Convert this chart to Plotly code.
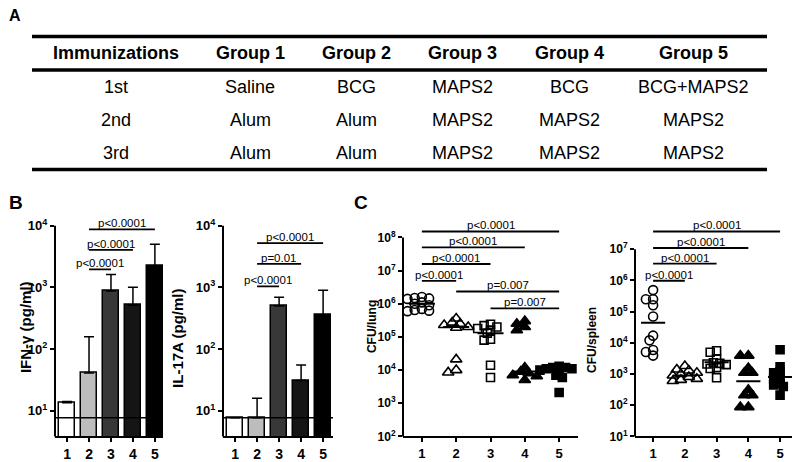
import numpy as np
import plotly.graph_objects as go

W, H = 800, 462
OX, OY = 8, 8  # page body margin of the exported html
FONT = "Liberation Sans, Arial, sans-serif"

# ---------------- data ----------------
table_header = ["Immunizations", "Group 1", "Group 2", "Group 3", "Group 4", "Group 5"]
row_1st = ["1st", "Saline", "BCG", "MAPS2", "BCG", "BCG+MAPS2"]
row_2nd = ["2nd", "Alum", "Alum", "MAPS2", "MAPS2", "MAPS2"]
row_3rd = ["3rd", "Alum", "Alum", "MAPS2", "MAPS2", "MAPS2"]

groups = [1, 2, 3, 4, 5]
group_labels = ["1", "2", "3", "4", "5"]

# panel B (pg/ml): mean and upper SD
ifn_mean = [13.5, 41, 870, 515, 2200]
ifn_sd = [0.6, 117, 740, 485, 2800]
il17_mean = [7.7, 7.7, 500, 31, 355]
il17_sd = [0, 8.3, 190, 24, 545]
detection_limit = 7.7

ifn_pairs = [(2, 3), (2, 4), (2, 5)]
ifn_pvals = ["p<0.0001", "p<0.0001", "p<0.0001"]
il17_pairs = [(2, 3), (2, 4), (2, 5)]
il17_pvals = ["p<0.0001", "p=0.01", "p<0.0001"]

# panel C: CFU per mouse
lung_g1 = [1.6e6, 1.5e6, 1.45e6, 1.4e6, 1.1e6, 1.0e6, 9e5, 7e5, 6.5e5, 6.2e5, 6e5]
lung_g2 = [3.6e5, 2.7e5, 2.5e5, 2.3e5, 2.0e5, 1.9e5, 2.1e4, 1.0e4, 8.5e3]
lung_g3 = [2.4e5, 2.2e5, 2.0e5, 1.8e5, 1.6e5, 1.3e5, 8.5e4, 8e4, 1.4e4, 6e3]
lung_g4 = [3.0e5, 2.5e5, 2.0e5, 1.6e5, 1.2e4, 9e3, 8e3, 7e3, 6.5e3, 5e3]
lung_g5 = [1.3e4, 1.2e4, 1.2e4, 1.1e4, 1.1e4, 1.0e4, 9e3, 7e3, 6e3, 2.1e3]
lung_median = [1.0e6, 2.0e5, 1.3e5, 9e3, 1.05e4]

spleen_g1 = [4.9e5, 2.5e5, 2.5e5, 1.6e5, 7e4, 1.7e4, 1.2e4, 5.9e3, 5.1e3, 3.9e3]
spleen_g2 = [1.8e3, 1.4e3, 1.3e3, 1.1e3, 1.0e3, 9e2, 8e2, 7e2, 6.5e2, 6e2]
spleen_g3 = [5.6e3, 5.0e3, 3.0e3, 2.3e3, 2.2e3, 2.1e3, 2.0e3, 1.6e3, 1.5e3, 7.6e2]
spleen_g4 = [3.9e3, 3.9e3, 1.55e3, 1.1e3, 1.1e3, 3.1e2, 2.1e2, 2.1e2, 8.7e1, 8.7e1]
spleen_g5 = [6.0e3, 1.7e3, 1.2e3, 1.1e3, 8e2, 7e2, 5e2, 4.5e2, 4e2, 2.1e2]
spleen_median = [4.4e4, 9e2, 2.4e3, 5.9e2, 8e2]

lung_pairs = [(1, 2), (1, 3), (1, 4), (1, 5), (2, 5), (3, 5)]
lung_pvals = ["p<0.0001", "p<0.0001", "p<0.0001", "p<0.0001", "p=0.007", "p=0.007"]
spleen_pairs = [(1, 2), (1, 3), (1, 4), (1, 5)]
spleen_pvals = ["p<0.0001", "p<0.0001", "p<0.0001", "p<0.0001"]

# bracket heights (data units)
ifn_bracket_y = [1950, 4050, 8700]
il17_bracket_y = [1040, 2400, 5200]
lung_bracket_y = [10 ** 6.69, 10 ** 7.20, 10 ** 7.70, 10 ** 8.18, 10 ** 6.37, 10 ** 5.86]
spleen_bracket_y = [10 ** 5.99, 10 ** 6.54, 10 ** 7.04, 10 ** 7.57]


def px(x):
    return (x - OX) / W


def py(y):
    return 1 - (y - OY) / H


fig = go.Figure()
annotations = []
shapes = []


def label(x, y, text, size, angle=0):
    annotations.append(dict(x=px(x), y=py(y), xref="paper", yref="paper", text=text,
                            showarrow=False, xanchor="center", yanchor="middle",
                            textangle=angle, font=dict(size=size, family=FONT, color="black")))


# ---------------- panel A: table ----------------
col_x = [116, 250, 356, 462, 569, 693]
row_y = [54, 88, 122, 155]
for j, txt in enumerate(table_header):
    label(col_x[j], row_y[0], f"<b>{txt}</b>", 18)
for i, row in enumerate([row_1st, row_2nd, row_3rd]):
    for j, txt in enumerate(row):
        label(col_x[j], row_y[i + 1], txt, 18)
for ly in [37, 71, 172]:
    shapes.append(dict(type="line", xref="paper", yref="paper", x0=px(32), x1=px(767),
                       y0=py(ly), y1=py(ly), line=dict(color="black", width=3.5)))

label(15, 16, "<b>A</b>", 16)
label(16, 205, "<b>B</b>", 19)
label(361, 205, "<b>C</b>", 19)

# ---------------- axes setup ----------------
panels = {
    # name: (x domain px, y top px, x range, log y range, y axis top decade, tick decades, font)
    "1": ((55, 163), 215, [0.45, 5.37], [0.584, 4.224], 4, range(1, 5), 13),
    "2": ((223, 333), 215, [0.45, 5.45], [0.584, 4.224], 4, range(1, 5), 13),
    "3": ((403, 578), 220, [0.45, 5.55], [2.0, 8.623], 8, range(2, 9), 12),
    "4": ((635, 795), 220, [0.43, 5.47], [1.0, 8.041], 7, range(1, 8), 12),
}
bottom_px = 443
for k, (xd, ytop, xr, yr, topdec, decs, fs) in panels.items():
    sfx = "" if k == "1" else k
    fig.update_layout({
        f"xaxis{sfx}": dict(domain=[px(xd[0]), px(xd[1])], range=xr, anchor=f"y{sfx}",
                            showline=True, linecolor="black", linewidth=2, showgrid=False,
                            zeroline=False, ticks="outside", ticklen=4, tickwidth=2,
                            tickcolor="black", tickvals=groups, ticktext=group_labels,
                            tickfont=dict(size=fs + 1, family=FONT, color="black", weight="bold")),
        f"yaxis{sfx}": dict(domain=[py(bottom_px), py(ytop)], type="log", range=yr,
                            anchor=f"x{sfx}", showline=False, showgrid=False, zeroline=False,
                            ticks="outside", ticklen=4, tickwidth=2, tickcolor="black",
                            tickvals=[10 ** d for d in decs],
                            ticktext=[f"10<sup>{d}</sup>" for d in decs],
                            tickfont=dict(size=fs, family=FONT, color="black", weight="bold")),
    })
    ydom_top = (topdec - yr[0]) / (yr[1] - yr[0])
    shapes.append(dict(type="line", xref=f"x{sfx} domain", yref=f"y{sfx} domain",
                       x0=0, x1=0, y0=0, y1=ydom_top, line=dict(color="black", width=2)))

# ---------------- panel B: bars ----------------
bar_colors = ["white", "#bdbdbd", "#383838", "#151515", "#000000"]
for sfx, means, sds in [("", ifn_mean, ifn_sd), ("2", il17_mean, il17_sd)]:
    xr = panels["1" if sfx == "" else sfx][2]
    fig.add_trace(go.Scatter(x=xr, y=[detection_limit, detection_limit], mode="lines",
                             line=dict(color="black", width=1.5), xaxis=f"x{sfx}", yaxis=f"y{sfx}",
                             showlegend=False, hoverinfo="skip"))
    fig.add_trace(go.Bar(x=groups, y=means, width=0.73, xaxis=f"x{sfx}", yaxis=f"y{sfx}",
                         marker=dict(color=bar_colors, line=dict(color="black", width=1.5)),
                         error_y=dict(type="data", array=sds, arrayminus=[0] * 5, symmetric=False,
                                      color="black", thickness=1.5, width=5),
                         showlegend=False))

# ---------------- panel C: scatter ----------------
symbols = ["circle-open", "triangle-up-open", "square-open", "triangle-up", "square"]
sizes = [9, 10, 8, 10, 8]


def swarm(values, center, px_unit, px_dec, diam):
    logs = np.log10(values) * px_dec
    order = np.argsort(-logs)
    placed = []
    xs = np.zeros(len(values))
    step = diam * 0.4
    for i in order:
        yv = logs[i]
        k = 0
        pos = None
        while pos is None:
            cands = [0.0] if k == 0 else [-k * step, k * step]
            for c in cands:
                if all((c - a) ** 2 + (yv - b) ** 2 >= (0.55 * diam) ** 2 for a, b in placed):
                    pos = c
                    break
            k += 1
        placed.append((pos, yv))
        xs[i] = center + pos / px_unit
    return xs


for sfx, data, med in [("3", [lung_g1, lung_g2, lung_g3, lung_g4, lung_g5], lung_median),
                       ("4", [spleen_g1, spleen_g2, spleen_g3, spleen_g4, spleen_g5], spleen_median)]:
    xd, ytop, xr, yr = panels[sfx][:4]
    px_unit = (xd[1] - xd[0]) / (xr[1] - xr[0])
    px_dec = (bottom_px - ytop) / (yr[1] - yr[0])
    for gi, vals in enumerate(data):
        xs = swarm(vals, groups[gi], px_unit, px_dec, sizes[gi])
        fig.add_trace(go.Scatter(x=xs, y=vals, mode="markers", xaxis=f"x{sfx}", yaxis=f"y{sfx}",
                                 marker=dict(symbol=symbols[gi], size=sizes[gi], color="black",
                                             line=dict(color="black", width=1.6)),
                                 showlegend=False))
    mx, my = [], []
    for g, m in zip(groups, med):
        mx += [g - 0.38, g + 0.38, None]
        my += [m, m, None]
    fig.add_trace(go.Scatter(x=mx, y=my, mode="lines", line=dict(color="black", width=2),
                             xaxis=f"x{sfx}", yaxis=f"y{sfx}", showlegend=False))

# ---------------- significance brackets ----------------
for sfx, pairs, pvals, heights in [("", ifn_pairs, ifn_pvals, ifn_bracket_y),
                                   ("2", il17_pairs, il17_pvals, il17_bracket_y),
                                   ("3", lung_pairs, lung_pvals, lung_bracket_y),
                                   ("4", spleen_pairs, spleen_pvals, spleen_bracket_y)]:
    bx, by = [], []
    for (a, b), h in zip(pairs, heights):
        bx += [a, b, None]
        by += [h, h, None]
    fig.add_trace(go.Scatter(x=bx, y=by, mode="lines", line=dict(color="black", width=1.8),
                             xaxis=f"x{sfx}", yaxis=f"y{sfx}", showlegend=False, hoverinfo="skip"))
    for (a, b), h, t in zip(pairs, heights, pvals):
        annotations.append(dict(x=(a + b) / 2, y=np.log10(h), xref=f"x{sfx}", yref=f"y{sfx}",
                                text=t, showarrow=False, xanchor="center", yanchor="bottom",
                                yshift=-2, font=dict(size=11.5, family=FONT, color="black")))

# ---------------- axis titles ----------------
label(25, 332, "<b>IFN-γ (pg/ml)</b>", 15, -90)
label(178, 344, "<b>IL-17A (pg/ml)</b>", 15, -90)
label(372, 332, "<b>CFU/lung</b>", 12, -90)
label(592, 345, "<b>CFU/spleen</b>", 12, -90)

fig.update_layout(width=W, height=H, margin=dict(l=0, r=0, t=0, b=0),
                  paper_bgcolor="white", plot_bgcolor="white", showlegend=False,
                  bargap=0, annotations=annotations, shapes=shapes,
                  font=dict(family=FONT, color="black"))

fig.write_html("out.html")
